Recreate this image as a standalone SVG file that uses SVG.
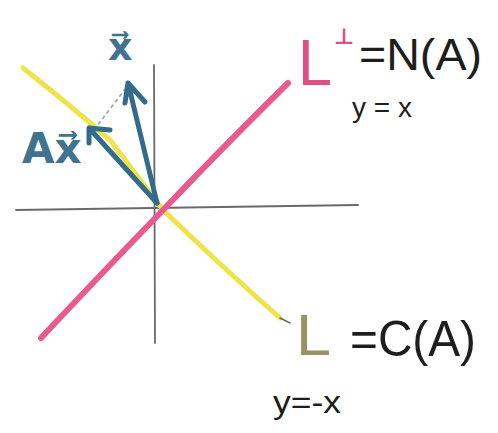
<svg xmlns="http://www.w3.org/2000/svg" width="498" height="433" viewBox="0 0 498 433">
<defs>
<style>
.axis{stroke:#6a6a6a;stroke-width:1.8;fill:none;stroke-linecap:round}
.pink{stroke:#ea5a8e;stroke-width:6;fill:none;stroke-linecap:round}
.yellow{stroke:#efe34a;stroke-width:5;fill:none;stroke-linecap:round}
.vec{stroke:#336b8a;stroke-width:5;fill:none;stroke-linecap:round;stroke-linejoin:round}
.dash{stroke:#a9a9a9;stroke-width:1.8;fill:none;stroke-dasharray:4 3}
.lbl{font-family:"DejaVu Sans","Liberation Sans",sans-serif;fill:#3f7390;font-weight:bold}
.blk{font-family:"Liberation Sans",Arial,sans-serif;fill:#1e1e1e}
</style>
</defs>
<rect width="498" height="433" fill="#ffffff"/>
<g id="connectors">
<path class="axis" d="M16,210 L358,205"/>
<path class="axis" d="M154,65 L155,343"/>
<path class="yellow" d="M23,68 Q70,105 110,140 L163,210 Q220,265 280,318"/>
<path class="axis" d="M280,318 L290,323" style="stroke-width:1.5"/>
<path class="pink" d="M41,338 Q100,275 163,210 Q230,140 288,83"/>
<path class="dash" d="M126,88 L97,126"/>
<path class="vec" d="M157,203 L128,83 M125,103 L128,83 L145,102"/>
<path class="vec" d="M157,203 L89,128 M89,143 L89,128 L110,130"/>
</g>
<g id="label-x">
<text class="lbl" x="108" y="60" font-size="38">x⃗</text>
</g>
<g id="label-Ax">
<text class="lbl" x="22" y="163" font-size="42">Ax⃗</text>
</g>
<g id="label-Lperp">
<text x="298" y="85" font-family="Liberation Sans,Arial,sans-serif" font-size="64" fill="#e24d85" textLength="34" lengthAdjust="spacingAndGlyphs">L</text>
<text x="334" y="44" font-family="DejaVu Sans,sans-serif" font-size="22" font-weight="bold" fill="#e24d85">⊥</text>
<text class="blk" x="359" y="70" font-size="44" textLength="123" lengthAdjust="spacingAndGlyphs">=N(A)</text>
<text class="blk" x="352" y="117" font-size="27" textLength="60" lengthAdjust="spacingAndGlyphs">y = x</text>
</g>
<g id="label-L">
<text x="296" y="355" font-family="Liberation Sans,Arial,sans-serif" font-size="58" fill="#9b9264" textLength="35" lengthAdjust="spacingAndGlyphs">L</text>
<text class="blk" x="350" y="356" font-size="50" textLength="126" lengthAdjust="spacingAndGlyphs">=C(A)</text>
<text class="blk" x="273" y="413" font-size="31" textLength="68" lengthAdjust="spacingAndGlyphs">y=-x</text>
</g>
</svg>
